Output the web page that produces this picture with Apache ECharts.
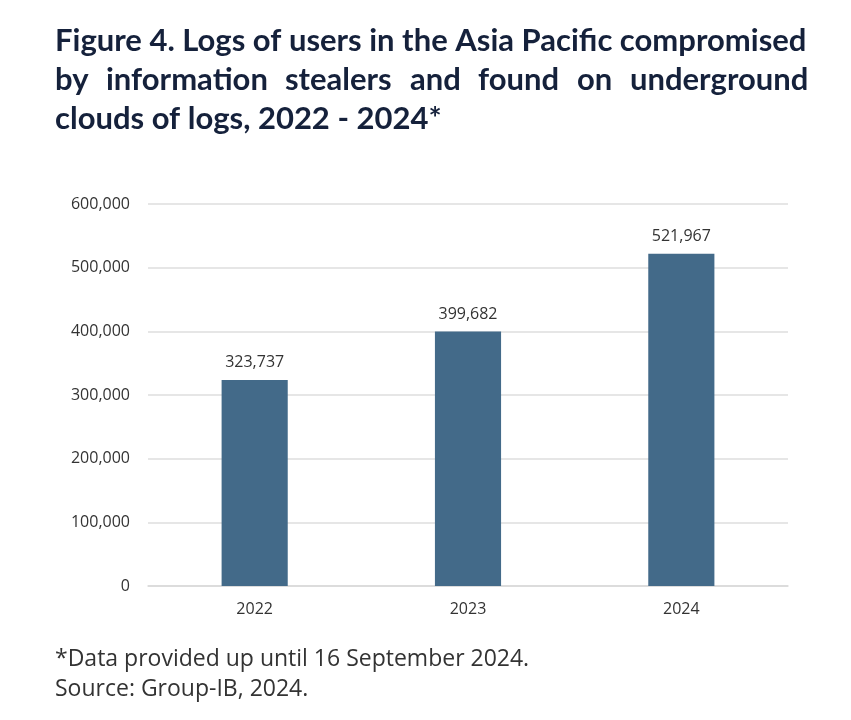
<!DOCTYPE html>
<html>
<head>
    <meta charset="utf-8">
    <title>ECharts</title>
    <script src="https://cdn.jsdelivr.net/npm/echarts@6/dist/echarts.min.js"></script>
</head>
<body style="margin:0;background:#fff">
    <div id="main" style="width: 851px;height:720px;"></div>
    <script type="text/javascript">
        var years = ['2022', '2023', '2024'];
        var logs = [323737, 399682, 521967];
        var yTicks = [0, 100000, 200000, 300000, 400000, 500000, 600000];

        var titleColor = '#15213b';
        var titleFont = 'bold 31px Lato';
        function titleText(txt, x, y) {
            return { type: 'text', left: x, top: y, style: { text: txt, fill: titleColor, font: titleFont } };
        }

        // second title line is justified in the original: spread the words between 55 and 808
        var line2 = ['by', 'information', 'stealers', 'and', 'found', 'on', 'underground'];
        var ctx = document.createElement('canvas').getContext('2d');
        ctx.font = titleFont;
        var widths = line2.map(function (w) { return ctx.measureText(w).width; });
        var total = widths.reduce(function (a, b) { return a + b; }, 0);
        var gap = (808 - 55 - total) / (line2.length - 1);

        var graphics = [
            titleText('Figure 4. Logs of users in the Asia Pacific compromised', 55, 25),
            titleText('clouds of logs, 2022 - 2024*', 55, 103),
            {
                type: 'text', left: 55, top: 648,
                style: { text: '*Data provided up until 16 September 2024.', fill: '#333', font: '23px "Open Sans"' }
            },
            {
                type: 'text', left: 55, top: 678,
                style: { text: 'Source: Group-IB, 2024.', fill: '#333', font: '23px "Open Sans"' }
            }
        ];
        var x = 55;
        line2.forEach(function (w, i) {
            graphics.push(titleText(w, Math.round(x), 64));
            x += widths[i] + gap;
        });

        var myChart = echarts.init(document.getElementById('main'));
        var option = {
            animation: false,
            graphic: graphics,
            grid: { left: 148, right: 63, top: 204, bottom: 134, containLabel: false },
            xAxis: {
                type: 'category',
                data: years,
                axisLine: { lineStyle: { color: '#d9d9d9', width: 1.5 } },
                axisTick: { show: false },
                axisLabel: { color: '#333', fontSize: 16, fontFamily: 'Open Sans', margin: 15 }
            },
            yAxis: {
                type: 'value',
                min: yTicks[0],
                max: yTicks[yTicks.length - 1],
                interval: yTicks[1] - yTicks[0],
                axisLine: { show: false },
                axisTick: { show: false },
                splitLine: { lineStyle: { color: '#dedede', width: 1.5 } },
                axisLabel: {
                    color: '#333', fontSize: 16, fontFamily: 'Open Sans', margin: 18,
                    formatter: function (v) { return v.toLocaleString('en-US'); }
                }
            },
            series: [{
                type: 'bar',
                data: logs,
                barWidth: '31%',
                itemStyle: { color: '#436a89' },
                label: {
                    show: true, position: 'top', distance: 9,
                    color: '#333', fontSize: 16, fontFamily: 'Open Sans',
                    formatter: function (p) { return p.value.toLocaleString('en-US'); }
                }
            }]
        };
        myChart.setOption(option);
    </script>
</body>
</html>
